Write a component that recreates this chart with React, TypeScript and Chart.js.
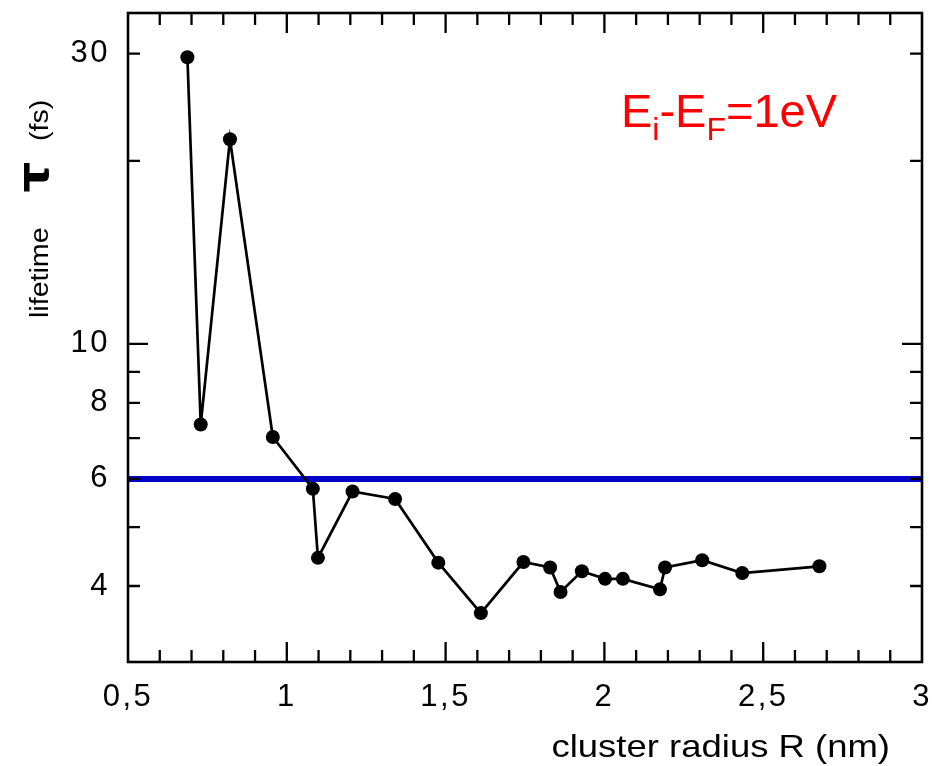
import React, { useEffect, useRef } from "react";
import { Chart, registerables } from "chart.js";

Chart.register(...registerables);

// ---- data ----
const RADIUS_NM = [
  0.687, 0.729, 0.821, 0.956, 1.082, 1.098, 1.207, 1.341, 1.477, 1.611, 1.745,
  1.829, 1.862, 1.929, 2.002, 2.058, 2.175, 2.191, 2.308, 2.434, 2.677,
];
const LIFETIME_FS = [
  29.6, 7.37, 21.7, 7.03, 5.78, 4.45, 5.72, 5.56, 4.37, 3.61, 4.38, 4.29, 3.91,
  4.23, 4.11, 4.11, 3.95, 4.29, 4.41, 4.2, 4.31,
];
const REFERENCE_LIFETIME = 6;
const X_RANGE = [0.5, 3];
const Y_RANGE = [3, 35];
const X_TICKS_STEP = 0.5;
const X_MINOR_STEP = 0.1;
const Y_TICKS = [3, 4, 5, 6, 7, 8, 9, 10, 20, 30];
const Y_LABELED = [4, 6, 8, 10, 30];
const Y_MAJOR = [10];

const X_TITLE = "cluster radius R (nm)";
const Y_TITLE_PARTS = ["lifetime", "τ", "(fs)"];
const NOTE_PARTS = [
  { t: "E", sub: false },
  { t: "i", sub: true },
  { t: "-E", sub: false },
  { t: "F", sub: true },
  { t: "=1eV", sub: false },
];

const FONT = '"Liberation Sans", Arial, Helvetica, sans-serif';
const WIDE = 1.1; // the reference's axis typeface is wider than Arial

const decorPlugin = {
  id: "decor",
  beforeDraw(chart: any) {
    (chart.ctx as any).letterSpacing = "2.5px";
  },
  afterDraw(chart: any) {
    const { ctx, chartArea: a, scales } = chart;
    const xs = scales.x;
    const ys = scales.y;
    ctx.save();
    (ctx as any).letterSpacing = "0px";

    // ticks (inward, on all four sides)
    ctx.strokeStyle = "#000";
    ctx.lineWidth = 2.3;
    ctx.lineCap = "butt";
    ctx.beginPath();
    const nMinor = Math.round((X_RANGE[1] - X_RANGE[0]) / X_MINOR_STEP);
    const perMajor = Math.round(X_TICKS_STEP / X_MINOR_STEP);
    for (let i = 1; i < nMinor; i++) {
      const v = X_RANGE[0] + i * X_MINOR_STEP;
      const px = xs.getPixelForValue(v);
      const len = i % perMajor === 0 ? 20 : 12;
      ctx.moveTo(px, a.bottom);
      ctx.lineTo(px, a.bottom - len);
      ctx.moveTo(px, a.top);
      ctx.lineTo(px, a.top + len);
    }
    for (const v of Y_TICKS) {
      if (v <= Y_RANGE[0] || v >= Y_RANGE[1]) continue;
      const py = ys.getPixelForValue(v);
      const len = Y_MAJOR.includes(v) ? 20 : 12;
      ctx.moveTo(a.left, py);
      ctx.lineTo(a.left + len, py);
      ctx.moveTo(a.right, py);
      ctx.lineTo(a.right - len, py);
    }
    ctx.stroke();

    // frame
    ctx.lineWidth = 2.6;
    ctx.strokeRect(a.left, a.top, a.right - a.left, a.bottom - a.top);

    // x title
    ctx.fillStyle = "#000";
    ctx.save();
    ctx.translate(890, 757);
    ctx.scale(1.14, 1);
    ctx.font = `32px ${FONT}`;
    ctx.textAlign = "right";
    ctx.textBaseline = "alphabetic";
    ctx.fillText(X_TITLE, 0, 0);
    ctx.restore();

    // y title (rotated)
    ctx.save();
    ctx.translate(48, 318);
    ctx.rotate(-Math.PI / 2);
    ctx.scale(WIDE, 1);
    ctx.textBaseline = "alphabetic";
    ctx.textAlign = "left";
    ctx.font = `26px ${FONT}`;
    ctx.fillText(Y_TITLE_PARTS[0], 0, 0);
    ctx.font = `bold 44px "DejaVu Sans", ${FONT}`;
    ctx.textAlign = "center";
    ctx.fillText(Y_TITLE_PARTS[1], 141 / WIDE, 0);
    ctx.font = `26px ${FONT}`;
    ctx.textAlign = "left";
    ctx.fillText(Y_TITLE_PARTS[2], 177 / WIDE, 0);
    ctx.restore();

    // red annotation
    ctx.fillStyle = "#ff0000";
    ctx.textAlign = "left";
    ctx.textBaseline = "alphabetic";
    let x = 621;
    for (const p of NOTE_PARTS) {
      ctx.font = p.sub ? `32px ${FONT}` : `47px ${FONT}`;
      ctx.fillText(p.t, x, p.sub ? 140 : 127);
      x += ctx.measureText(p.t).width;
    }
    ctx.restore();
  },
};

export default function App() {
  const ref = useRef<HTMLCanvasElement | null>(null);

  useEffect(() => {
    if (!ref.current) return;
    const chart = new Chart(ref.current, {
      type: "line",
      data: {
        datasets: [
          {
            data: RADIUS_NM.map((r, i) => ({ x: r, y: LIFETIME_FS[i] })),
            borderColor: "#000",
            backgroundColor: "#000",
            borderWidth: 2.7,
            pointRadius: 7,
            pointBorderWidth: 0,
            pointBackgroundColor: "#000",
            tension: 0,
          },
          {
            data: [
              { x: X_RANGE[0], y: REFERENCE_LIFETIME },
              { x: X_RANGE[1], y: REFERENCE_LIFETIME },
            ],
            borderColor: "#0000c8",
            borderWidth: 6,
            pointRadius: 0,
            tension: 0,
          },
        ],
      },
      options: {
        responsive: false,
        animation: false,
        events: [],
        layout: { padding: { top: 13, right: 10, left: 0, bottom: 0 } },
        plugins: { legend: { display: false }, tooltip: { enabled: false } },
        scales: {
          x: {
            type: "linear",
            min: X_RANGE[0],
            max: X_RANGE[1],
            grid: { display: false, drawTicks: false },
            border: { display: false },
            ticks: {
              stepSize: X_TICKS_STEP,
              padding: 17,
              color: "#000",
              font: { family: FONT, size: 31 },
              maxRotation: 0,
              autoSkip: false,
              callback: (v: any) => String(Number(v)).replace(".", ","),
            },
            afterFit: (s: any) => {
              s.height = 104;
              s.paddingLeft = 0;
              s.paddingRight = 0;
            },
          },
          y: {
            type: "logarithmic",
            min: Y_RANGE[0],
            max: Y_RANGE[1],
            grid: { display: false, drawTicks: false },
            border: { display: false },
            afterBuildTicks: (s: any) => {
              s.ticks = Y_TICKS.map((v) => ({ value: v }));
            },
            ticks: {
              padding: 18,
              color: "#000",
              autoSkip: false,
              font: { family: FONT, size: 31 },
              callback: (v: any) =>
                Y_LABELED.includes(Number(v)) ? String(Number(v)) : "",
            },
            afterFit: (s: any) => {
              s.width = 128;
              s.paddingTop = 0;
              s.paddingBottom = 0;
            },
          },
        },
      },
      plugins: [decorPlugin],
    });
    return () => chart.destroy();
  }, []);

  return (
    <div
      style={{
        position: "fixed",
        left: 0,
        top: 0,
        width: 932,
        height: 766,
        background: "#fff",
      }}
    >
      <canvas ref={ref} width={932} height={766} style={{ display: "block" }} />
    </div>
  );
}
